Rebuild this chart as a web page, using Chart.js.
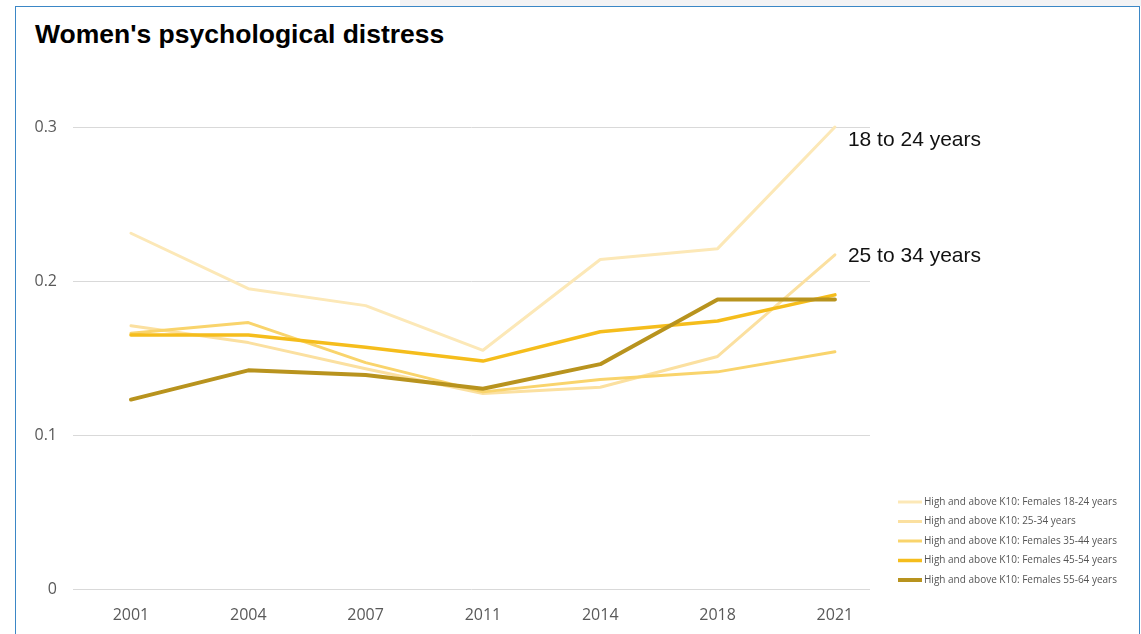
<!DOCTYPE html>
<html>
<head>
<meta charset="utf-8">
<script src="https://cdn.jsdelivr.net/npm/chart.js@4.4.1/dist/chart.umd.min.js"></script>
<style>
html, body { margin: 0; padding: 0; background: #fff; }
#strip { position: absolute; left: 400px; top: 0; width: 741px; height: 6px; background: #f3f3f5; }
#frame { position: absolute; left: 15px; top: 6px; width: 1123px; height: 640px; border: 1.5px solid #3b87c6; border-bottom: none; }
#title { position: absolute; left: 35px; top: 19px; font: bold 26.5px "Liberation Sans", Arial, sans-serif; color: #000; white-space: nowrap; }
#wrap { position: absolute; left: 0; top: 0; width: 1141px; height: 634px; }
</style>
</head>
<body>
<div id="strip"></div>
<div id="frame"></div>
<div id="title">Women's psychological distress</div>
<div id="wrap"><canvas id="myChart" width="1141" height="634"></canvas></div>
<script>
// survey years and share of women with high / very high K10 scores
const years = ['2001', '2004', '2007', '2011', '2014', '2018', '2021'];
const f18_24 = [0.231, 0.195, 0.184, 0.155, 0.214, 0.221, 0.300];
const f25_34 = [0.171, 0.160, 0.143, 0.127, 0.131, 0.151, 0.217];
const f35_44 = [0.166, 0.173, 0.147, 0.128, 0.136, 0.141, 0.154];
const f45_54 = [0.165, 0.165, 0.157, 0.148, 0.167, 0.174, 0.191];
const f55_64 = [0.123, 0.142, 0.139, 0.130, 0.146, 0.188, 0.188];

const seriesNames = [
    'High and above K10: Females 18-24 years',
    'High and above K10: 25-34 years',
    'High and above K10: Females 35-44 years',
    'High and above K10: Females 45-54 years',
    'High and above K10: Females 55-64 years'
];
const endLabels = ['18 to 24 years', '25 to 34 years', null, null, null];
const yTicks = [0, 0.1, 0.2, 0.3];

const colors = ['#fce8b7', '#fbe0a0', '#f9d46c', '#f5bd1c', '#b8931e'];
const widths = [3, 3, 3, 3.5, 4];

function toPoints(values) {
    return years.map(function (y, i) { return { x: i, y: values[i] }; });
}

const allSeries = [f18_24, f25_34, f35_44, f45_54, f55_64];
let datasets = [];
for (let i in allSeries) {
    datasets.push({
        label: seriesNames[i],
        data: toPoints(allSeries[i]),
        borderColor: colors[i],
        backgroundColor: colors[i],
        borderWidth: widths[i],
        pointRadius: 0,
        tension: 0,
        borderCapStyle: 'round',
        borderJoinStyle: 'round',
        clip: false,
        order: 5 - i
    });
}

// draws the small legend at the lower right and the labels at line ends
const extrasPlugin = {
    id: 'extras',
    afterDatasetsDraw(chart) {
        const ctx = chart.ctx;
        ctx.save();
        // legend
        chart.data.datasets.forEach(function (ds, i) {
            let y = 502 + i * 19.5;
            ctx.strokeStyle = ds.borderColor;
            ctx.lineWidth = ds.borderWidth;
            ctx.beginPath();
            ctx.moveTo(898, y);
            ctx.lineTo(922, y);
            ctx.stroke();
            ctx.fillStyle = '#555';
            ctx.font = '10px "Open Sans", sans-serif';
            ctx.textBaseline = 'middle';
            ctx.textAlign = 'left';
            ctx.fillText(ds.label, 924, y);
        });
        // end labels
        const offsets = [13, 1];
        endLabels.forEach(function (txt, i) {
            if (!txt) return;
            let meta = chart.getDatasetMeta(i);
            let last = meta.data[meta.data.length - 1];
            ctx.fillStyle = '#111';
            ctx.font = '21px "Liberation Sans", Arial, sans-serif';
            ctx.textBaseline = 'middle';
            ctx.textAlign = 'left';
            ctx.fillText(txt, last.x + 13, last.y + offsets[i]);
        });
        ctx.restore();
    }
};

const canvas = document.getElementById('myChart');
const myChart = new Chart(canvas, {
    type: 'line',
    data: { datasets: datasets },
    options: {
        responsive: false,
        animation: false,
        layout: { padding: { top: 127, right: 271, left: 0, bottom: 0 } },
        plugins: {
            legend: { display: false },
            tooltip: { enabled: false }
        },
        scales: {
            x: {
                type: 'linear',
                min: -0.494,
                max: 6.299,
                grid: { display: false },
                border: { display: false },
                afterFit: function (scale) { scale.height = 45; },
                ticks: {
                    stepSize: 1,
                    includeBounds: false,
                    autoSkip: false,
                    maxRotation: 0,
                    padding: 9,
                    color: '#595959',
                    font: { family: 'Open Sans', size: 16 },
                    callback: function (v) { return years[v] !== undefined ? years[v] : ''; }
                }
            },
            y: {
                min: 0,
                max: 0.3,
                afterFit: function (scale) { scale.width = 73; },
                afterBuildTicks: function (scale) {
                    scale.ticks = yTicks.map(function (v) { return { value: v }; });
                },
                grid: { color: '#d9d9d9', lineWidth: 1, drawTicks: false },
                border: { display: false },
                ticks: {
                    padding: 16,
                    color: '#595959',
                    font: { family: 'Open Sans', size: 16 },
                    callback: function (v) { return v === 0 ? '0' : v.toFixed(1); }
                }
            }
        }
    },
    plugins: [extrasPlugin]
});
</script>
</body>
</html>
